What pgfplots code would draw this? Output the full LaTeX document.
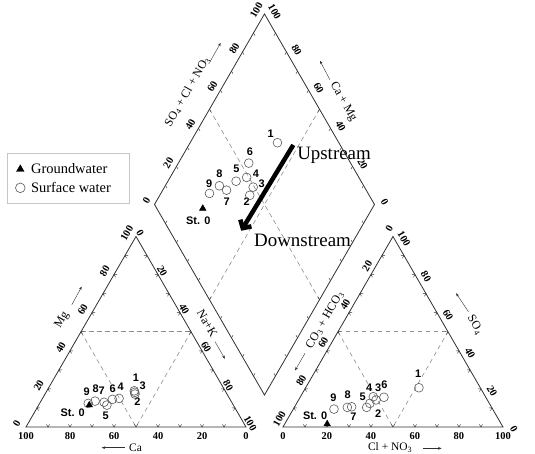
\documentclass[border=0pt]{standalone}
\usepackage{fontspec}
\setmainfont{Liberation Serif}
\newfontfamily\lsans{Liberation Sans}
\usepackage{pgfplots}
\pgfplotsset{compat=1.18}
\usepackage{pgfplotstable}
\usetikzlibrary{arrows.meta}
\definecolor{edge}{HTML}{303030}
\definecolor{dashc}{HTML}{8C8C8C}
\definecolor{mk}{HTML}{5A5A5A}
\newcommand{\legfont}{\fontsize{14.5}{16.5}\selectfont}
\tikzset{
  tl/.style={font=\fontsize{10.5}{10.5}\selectfont\bfseries, inner sep=0pt},
  ttl/.style={font=\fontsize{12}{12}\selectfont, inner sep=0pt},
  ttlb/.style={font=\fontsize{11.5}{11.5}\selectfont, inner sep=0pt},
  lab/.style={font=\lsans\bfseries\fontsize{11}{11}\selectfont, inner sep=0pt},
  sarr/.style={edge, line width=0.4bp, -{Stealth[length=3.5bp,width=2.6bp]}},
  dl/.style={dashc, line width=0.6bp, dash pattern=on 4.5bp off 3.5bp},
}

% Cation %: na = Na+K, mg = Mg ; Anion %: cl = Cl+NO3, so4 = SO4
\pgfplotstableread{
id na   mg   cl   so4
1  39.7 19.0 51.5 20.6
2  40.9 17.3 33.3 12.4
3  40.3 18.2 35.2 14.2
4  34.8 15.0 33.1 15.9
5  31.0 11.5 32.9 10.3
6  32.0 14.5 38.1 15.6
7  29.0 13.0 25.9 10.6
8  24.6 13.6 24.1 10.3
9  22.1 12.4 18.5  9.4
}\surface
\pgfplotstableread{
id na   mg   cl   so4
0  23.0 11.5 19.3 1.6
}\ground

\begin{document}
\begin{tikzpicture}
\begin{axis}[name=ax, x=2.2bp, y=2.2bp,
  xmin=-11.82, xmax=231.36, ymin=-12.27, ymax=194.09,
  hide axis, clip=false,
  legend style={at={(axis cs:-8.5,124.4)}, anchor=north west, draw=gray!45,
    row sep=3bp, inner xsep=8bp, inner ysep=8bp},
  legend cell align=left,
]
% ---- dashed guide lines
\draw[dl] (25,43.3013) -- (75,43.3013);
\draw[dl] (25,43.3013) -- (50,0) -- (75,43.3013);
\draw[dl] (141.8,43.3013) -- (191.8,43.3013);
\draw[dl] (141.8,43.3013) -- (166.8,0) -- (191.8,43.3013);
\draw[dl] (83.4,144.45) -- (133.4,57.85);
\draw[dl] (133.4,144.45) -- (83.4,57.85);
% ---- frames
\draw[edge, line width=0.8bp] (0,0) -- (100,0) -- (50,86.6025) -- cycle;
\draw[edge, line width=0.8bp] (116.8,0) -- (216.8,0) -- (166.8,86.6025) -- cycle;
\draw[edge, line width=0.8bp] (108.4,14.55) -- (58.4,101.15) -- (108.4,187.75) -- (158.4,101.15) -- cycle;
% ---- ticks
\pgfplotsinvokeforeach{1,...,9}{
  \draw[edge, line width=0.45bp] ({10*#1-0.7},1.212) -- ({10*#1},0) -- ({10*#1+0.7},1.212);
  \draw[edge, line width=0.45bp] ({5*#1+1.4},{8.66025*#1}) -- ({5*#1},{8.66025*#1}) -- ({5*#1+0.7},{8.66025*#1-1.212});
  \draw[edge, line width=0.45bp] ({50+5*#1-1.4},{86.6025-8.66025*#1}) -- ({50+5*#1},{86.6025-8.66025*#1}) -- ({50+5*#1-0.7},{86.6025-8.66025*#1-1.212});
  \draw[edge, line width=0.45bp] ({116.8+10*#1-0.7},1.212) -- ({116.8+10*#1},0) -- ({116.8+10*#1+0.7},1.212);
  \draw[edge, line width=0.45bp] ({116.8+5*#1+1.4},{8.66025*#1}) -- ({116.8+5*#1},{8.66025*#1}) -- ({116.8+5*#1+0.7},{8.66025*#1-1.212});
  \draw[edge, line width=0.45bp] ({166.8+5*#1-1.4},{86.6025-8.66025*#1}) -- ({166.8+5*#1},{86.6025-8.66025*#1}) -- ({166.8+5*#1-0.7},{86.6025-8.66025*#1-1.212});
  \draw[edge, line width=0.45bp] ({108.4-5*#1},{14.55+8.66025*#1}) -- ({108.4-5*#1+0.7},{14.55+8.66025*#1+1.212});
  \draw[edge, line width=0.45bp] ({108.4+5*#1},{14.55+8.66025*#1}) -- ({108.4+5*#1-0.7},{14.55+8.66025*#1+1.212});
  \draw[edge, line width=0.45bp] ({58.4+5*#1},{101.15+8.66025*#1}) -- ({58.4+5*#1+0.7},{101.15+8.66025*#1-1.212});
  \draw[edge, line width=0.45bp] ({158.4-5*#1},{101.15+8.66025*#1}) -- ({158.4-5*#1-0.7},{101.15+8.66025*#1-1.212});
}
% ---- tick labels
\pgfplotsinvokeforeach{0,20,...,100}{
  \node[tl] at (#1,-4.2) {\pgfmathparse{int(100-#1)}\pgfmathresult};
  \node[tl, rotate=60] at ({0.5*#1-4.2},{0.866025*#1+1.5}) {#1};
  \node[tl, rotate=-60] at ({50+0.5*#1+1.9},{86.6025-0.866025*#1+1.6}) {#1};
  \node[tl] at ({116.8+#1},-4.2) {#1};
  \node[tl, rotate=60] at ({166.8-0.5*#1-1.7},{86.6025-0.866025*#1+3.8}) {#1};
  \node[tl, rotate=-60] at ({216.8-0.5*#1+5.0},{0.866025*#1-1.0}) {#1};
  \node[tl, rotate=60] at ({58.4+0.5*#1-3.7},{101.15+0.866025*#1+1.6}) {#1};
  \node[tl, rotate=-60] at ({158.4-0.5*#1+4.6},{101.15+0.866025*#1+1.0}) {#1};
}
% ---- axis titles
\node[ttl, rotate=60] at (16.4,48.6) {Mg};
\draw[sarr] (20.8,55.5) -- (25.3,63.8);
\node[ttl, rotate=-60] at (82.4,47.1) {Na+K};
\draw[sarr] (85.9,38.8) -- (90.4,31.0);
\node[ttlb] at (49.8,-9.6) {Ca};
\draw[sarr] (45,-9.4) -- (34.4,-9.4);
\node[ttl, rotate=60] at (135.9,48.6) {CO\textsubscript{3} + HCO\textsubscript{3}};
\draw[sarr] (126.8,33.5) -- (122.3,25.7);
\node[ttl, rotate=-60] at (204.1,46.4) {SO\textsubscript{4}};
\draw[sarr] (201.1,52.4) -- (195.5,60.8);
\node[ttlb] at (165.5,-9.4) {Cl + NO\textsubscript{3}};
\draw[sarr] (180.6,-9.7) -- (188.9,-9.7);
\node[ttl, rotate=60] at (73.4,152.4) {SO\textsubscript{4} + Cl + NO\textsubscript{3}};
\draw[sarr] (83.6,166.0) -- (88.5,174.6);
\node[ttl, rotate=-60] at (144.2,147.9) {Ca + Mg};
\draw[sarr] (138.2,157.7) -- (133.6,166.5);
% ---- big arrow
\draw[line width=4.5bp, -{Straight Barb[length=6bp,width=13bp]}] (121.5,128.2) -- (97.8,89.2);
\node[anchor=west, font=\fontsize{19}{19}\selectfont, inner sep=0pt] at (123.2,123.6) {Upstream};
\node[font=\fontsize{19}{19}\selectfont, inner sep=0pt] at (125.7,85) {Downstream};
% ---- data: cation triangle
\addplot[only marks, mark=o, mark size=4.4bp, mk, mark options={line width=0.6bp}, forget plot]
  table[x expr=\thisrow{na}+0.5*\thisrow{mg}, y expr=0.866025*\thisrow{mg}] {\surface};
\addplot[only marks, mark=triangle*, mark size=3.8bp, black, forget plot]
  table[x expr=\thisrow{na}+0.5*\thisrow{mg}, y expr=0.866025*\thisrow{mg}] {\ground};
% ---- anion triangle
\addplot[only marks, mark=o, mark size=4.4bp, mk, mark options={line width=0.6bp}, forget plot]
  table[x expr=116.8+\thisrow{cl}+0.5*\thisrow{so4}, y expr=0.866025*\thisrow{so4}] {\surface};
\addplot[only marks, mark=triangle*, mark size=3.8bp, black, forget plot]
  table[x expr=116.8+\thisrow{cl}+0.5*\thisrow{so4}, y expr=0.866025*\thisrow{so4}] {\ground};
% ---- diamond
\addplot[only marks, mark=o, mark size=4.4bp, mk, mark options={line width=0.6bp}, forget plot]
  table[x expr=108.4+0.5*((\thisrow{cl}+\thisrow{so4})-(100-\thisrow{na})),
        y expr=14.55+0.866025*((100-\thisrow{na})+(\thisrow{cl}+\thisrow{so4}))] {\surface};
\addplot[only marks, mark=triangle*, mark size=3.8bp, black, forget plot]
  table[x expr=108.4+0.5*((\thisrow{cl}+\thisrow{so4})-(100-\thisrow{na})),
        y expr=14.55+0.866025*((100-\thisrow{na})+(\thisrow{cl}+\thisrow{so4}))] {\ground};
% ---- legend
\addlegendimage{only marks, mark=triangle*, mark size=4.4bp, black}
\addlegendentry{\hspace*{4bp}\legfont Groundwater}
\addlegendimage{only marks, mark=o, mark size=4.8bp, mk, mark options={line width=0.6bp}}
\addlegendentry{\hspace*{4bp}\legfont Surface water\hspace*{8bp}}
% ---- point labels: cation triangle
\node[lab] at (50.0,22.6) {1};
\node[lab] at (53.0,18.6) {3};
\node[lab] at (50.6,11.5) {2};
\node[lab] at (43.0,18.3) {4};
\node[lab] at (39.4,17.6) {6};
\node[lab] at (34.4,16.5) {7};
\node[lab] at (31.7,17.6) {8};
\node[lab] at (27.6,16.0) {9};
\node[lab] at (36.2,5.1) {5};
\node[lab] at (21.2,6.5) {St. 0};
% ---- anion triangle
\node[lab] at (178.3,24.1) {1};
\node[lab] at (156.0,18.0) {4};
\node[lab] at (160.1,18.0) {3};
\node[lab] at (162.9,19.1) {6};
\node[lab] at (153.0,13.8) {5};
\node[lab] at (146.2,14.5) {8};
\node[lab] at (139.7,13.3) {9};
\node[lab] at (148.8,4.7) {7};
\node[lab] at (160.1,6.2) {2};
\node[lab] at (131.4,5.1) {St. 0};
% ---- diamond
\node[lab] at (111.2,133.5) {1};
\node[lab] at (101.8,124.9) {6};
\node[lab] at (95.6,117.3) {5};
\node[lab] at (104.5,115.0) {4};
\node[lab] at (87.9,115.3) {8};
\node[lab] at (83.3,110.5) {9};
\node[lab] at (107.1,110.8) {3};
\node[lab] at (91.2,102.4) {7};
\node[lab] at (100.3,102.4) {2};
\node[lab] at (78.3,93.8) {St. 0};
\end{axis}
\pgfresetboundingbox
\path[use as bounding box] (ax.south west) rectangle (ax.north east);
\end{tikzpicture}
\end{document}
